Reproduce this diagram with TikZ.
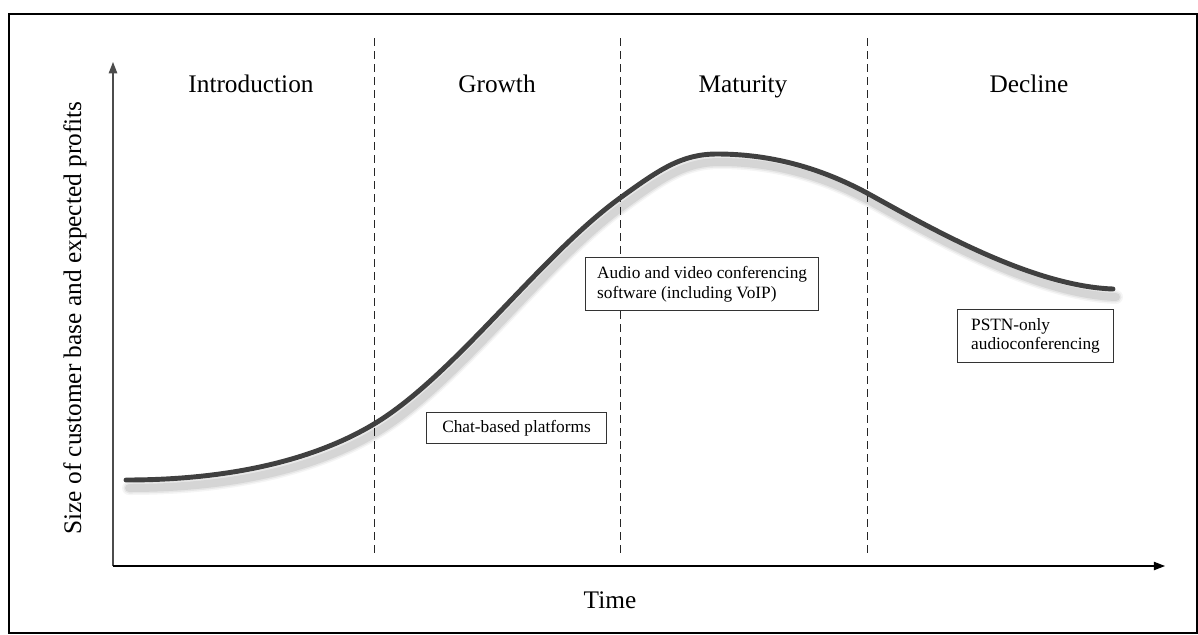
\documentclass[tikz,border=0pt]{standalone}
\usepackage{fontspec}
\setmainfont{Liberation Serif}
\usetikzlibrary{arrows.meta}

\definecolor{curvegray}{HTML}{404040}

% Life cycle curve, used for the line and its shadow
\newcommand\lifecurve{(126,480)
    .. controls (230,480) and (314,460) .. (374,424)
    .. controls (454,376) and (540,256) .. (620,198)
    .. controls (660,169) and (682,154) .. (717,154)
    .. controls (767,154) and (817,166) .. (867,193)
    .. controls (927,226) and (1030,286) .. (1113,289)}

\tikzset{
    phase/.style={font=\fontsize{18}{22}\selectfont},
    product/.style={draw=black!80, line width=0.7pt, fill=white, align=left,
        anchor=north west, inner xsep=0.25cm, inner ysep=0pt,
        font=\fontsize{12.3}{14}\selectfont},
    axis/.style={line width=0.8pt, -{Triangle[length=8pt, width=6pt]}},
    boundary/.style={line width=0.7pt, black!85, dash pattern=on 0.2cm off 0.125cm},
}

\begin{document}
\begin{tikzpicture}[x=0.025cm, y=-0.025cm]
    \useasboundingbox (0,0) rectangle (1198,634);
    % Frame around the figure
    \draw[line width=1.4pt] (9,14) rectangle (1197,633);

    % Axes
    \coordinate (origin) at (113,566);
    \coordinate (ytip) at (113,62);
    \coordinate (xtip) at (1165,566);
    \draw[axis, black!70] (origin) -- (ytip);
    \draw[axis] (origin) -- (xtip);
    \node[phase] (xlab) at (610,600) {Time};
    \node[phase, rotate=90] (ylab) at (75,318) {Size of customer base and expected profits};

    % Stage boundaries
    \foreach \x in {374, 620, 867}
        \draw[boundary] (\x,38) -- (\x,557);

    % Stage names
    \foreach \x/\name/\txt in {
        251/intro/Introduction, 497/growth/Growth,
        743/maturity/Maturity, 1029/decline/Decline
    }
    \node[phase, anchor=base] (\name) at (\x,92) {\txt};

    % Soft shadow under the curve
    \foreach \w/\op in {14/0.04, 11/0.06, 8/0.08}
        \draw[line width=\w*0.025cm, black, opacity=\op, line cap=round,
            shift={(3,8)}] \lifecurve;
    \draw[line width=3.5pt, curvegray, line cap=round] \lifecurve;

    % Products in each stage
    \node[product, minimum width=4.5cm, minimum height=0.775cm] (chat) at (426,412)
        {Chat-based platforms};
    \node[product, minimum width=5.83cm, minimum height=1.325cm] (conf) at (585,257)
        {Audio and video conferencing\\software (including VoIP)};
    \node[product, minimum width=3.9cm, minimum height=1.325cm] (pstn) at (957,309)
        {PSTN-only\\audioconferencing};
\end{tikzpicture}
\end{document}
